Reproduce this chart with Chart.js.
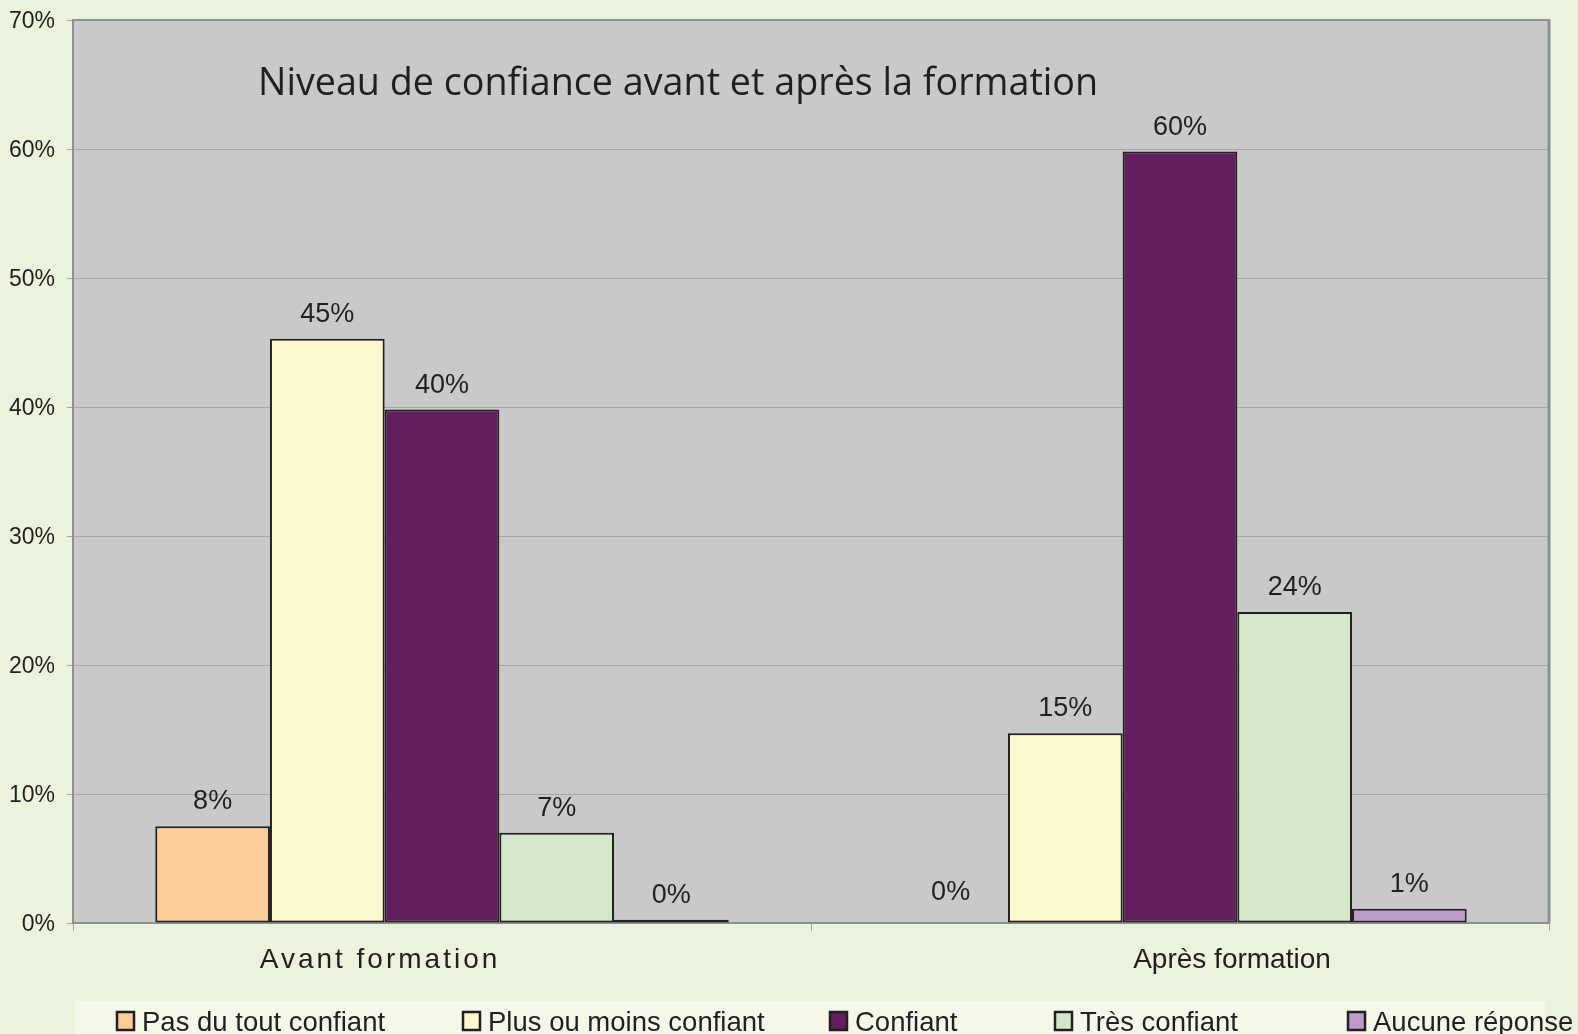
<!DOCTYPE html>
<html>
<head>
<meta charset="utf-8">
<script src="https://cdn.jsdelivr.net/npm/chart.js@4.4.1/dist/chart.umd.min.js"></script>
<style>
  html, body { margin: 0; padding: 0; background: #ebf3dd; }
  #wrap { width: 1578px; height: 1034px; position: relative; }
</style>
</head>
<body>
<div id="wrap"><canvas id="chart"></canvas></div>
<script>
// categories and series
const categories = ['Avant formation', 'Après formation'];
const seriesNames = ['Pas du tout confiant', 'Plus ou moins confiant', 'Confiant', 'Très confiant', 'Aucune réponse'];
const pasDuTout = [7.5, 0];
const plusOuMoins = [45.3, 14.7];
const confiant = [39.8, 59.8];
const tresConfiant = [7.0, 24.1];
const aucuneReponse = [0.25, 1.1];
const yTicks = [0, 10, 20, 30, 40, 50, 60, 70];
const chartTitle = 'Niveau de confiance avant et après la formation';

const seriesColors = ['#fccb9a', '#fbf8cd', '#621e5f', '#d3e6c7', '#bc9bcb'];
const seriesValues = [pasDuTout, plusOuMoins, confiant, tresConfiant, aucuneReponse];

const textColor = '#231f20';

// plot background, border and title
const plotDecor = {
    id: 'plotDecor',
    beforeDraw(chart) {
        const { ctx, chartArea: a } = chart;
        ctx.save();
        ctx.fillStyle = '#c8c9cb';
        ctx.fillRect(a.left, a.top, a.right - a.left, a.bottom - a.top);
        ctx.restore();
    },
    beforeDatasetsDraw(chart) {
        const { ctx, chartArea: a } = chart;
        ctx.save();
        ctx.strokeStyle = '#8e8f91';
        ctx.lineWidth = 2;
        ctx.strokeRect(a.left, a.top, a.right - a.left, a.bottom - a.top);
        ctx.lineWidth = 3;
        ctx.beginPath();
        ctx.moveTo(a.right, a.top);
        ctx.lineTo(a.right, a.bottom);
        ctx.stroke();
        ctx.restore();
    },
    afterDraw(chart) {
        const { ctx } = chart;
        ctx.save();
        // title, sized to span like the original
        ctx.fillStyle = textColor;
        ctx.textBaseline = 'alphabetic';
        ctx.textAlign = 'left';
        ctx.font = '40px "Open Sans"';
        const w = ctx.measureText(chartTitle).width;
        const size = 40 * 841 / w;
        ctx.font = size.toFixed(1) + 'px "Open Sans"';
        ctx.fillText(chartTitle, 258, 95);

        // category labels
        const x = chart.scales.x;
        ctx.font = '28px "Liberation Sans"';
        ctx.textAlign = 'center';
        ctx.letterSpacing = '3px';
        ctx.fillText(categories[0], x.getPixelForValue(0) - 62, 968);
        ctx.letterSpacing = '0px';
        ctx.fillText(categories[1], x.getPixelForValue(1) + 52, 968);
        ctx.restore();
    }
};

// value labels above the bars
const valueLabels = {
    id: 'valueLabels',
    afterDatasetsDraw(chart) {
        const { ctx } = chart;
        ctx.save();
        ctx.fillStyle = textColor;
        ctx.font = '27px "Liberation Sans"';
        ctx.textAlign = 'center';
        ctx.textBaseline = 'alphabetic';
        chart.data.datasets.forEach((ds, i) => {
            chart.getDatasetMeta(i).data.forEach((bar, j) => {
                const v = ds.data[j];
                const off = v === 0 ? 23 : 17;
                ctx.fillText(Math.round(v) + '%', bar.x, bar.y - off);
            });
        });
        ctx.restore();
    }
};

// legend strip at the bottom
const legendStrip = {
    id: 'legendStrip',
    afterDraw(chart) {
        const { ctx } = chart;
        const xs = [117, 463, 830, 1055, 1348];
        ctx.save();
        ctx.fillStyle = '#f3f8eb';
        ctx.fillRect(75, 1001, 1470, 40);
        ctx.font = '27.5px "Liberation Sans"';
        ctx.textBaseline = 'alphabetic';
        ctx.textAlign = 'left';
        seriesNames.forEach((name, i) => {
            ctx.fillStyle = seriesColors[i];
            ctx.fillRect(xs[i], 1012, 17, 18);
            ctx.strokeStyle = textColor;
            ctx.lineWidth = 2.5;
            ctx.strokeRect(xs[i], 1012, 17, 18);
            ctx.fillStyle = textColor;
            ctx.fillText(name, xs[i] + 25, 1031);
        });
        ctx.restore();
    }
};

const datasets = seriesNames.map((name, i) => ({
    label: name,
    data: seriesValues[i],
    backgroundColor: seriesColors[i],
    borderColor: textColor,
    borderWidth: c => (c.raw === 0 ? 0 : 2),
    borderSkipped: false,
    categoryPercentage: 0.777,
    barPercentage: 1
}));

new Chart(document.getElementById('chart'), {
    type: 'bar',
    data: { labels: categories, datasets: datasets },
    options: {
        responsive: true,
        maintainAspectRatio: false,
        animation: false,
        layout: { padding: { top: 20, right: 29, bottom: 0, left: 0 } },
        plugins: {
            legend: { display: false },
            title: { display: false },
            tooltip: { enabled: false }
        },
        scales: {
            x: {
                offset: true,
                grid: { offset: true, drawOnChartArea: false, drawTicks: true, tickLength: 8, color: '#a5a6a8' },
                border: { display: false },
                ticks: { display: false },
                afterFit(s) { s.height = 111; }
            },
            y: {
                min: 0,
                max: 70,
                afterBuildTicks(s) { s.ticks = yTicks.map(v => ({ value: v })); },
                grid: { color: '#a5a6a8', lineWidth: 1, tickLength: 6, drawTicks: true },
                border: { display: false },
                ticks: {
                    padding: 12,
                    labelOffset: 2,
                    color: textColor,
                    font: { family: 'Liberation Sans', size: 23 },
                    callback: v => v + '%'
                },
                afterFit(s) {
                    s.width = 73;
                    s.paddingTop = 0;
                    s.paddingBottom = 0;
                }
            }
        }
    },
    plugins: [plotDecor, valueLabels, legendStrip]
});
</script>
</body>
</html>
